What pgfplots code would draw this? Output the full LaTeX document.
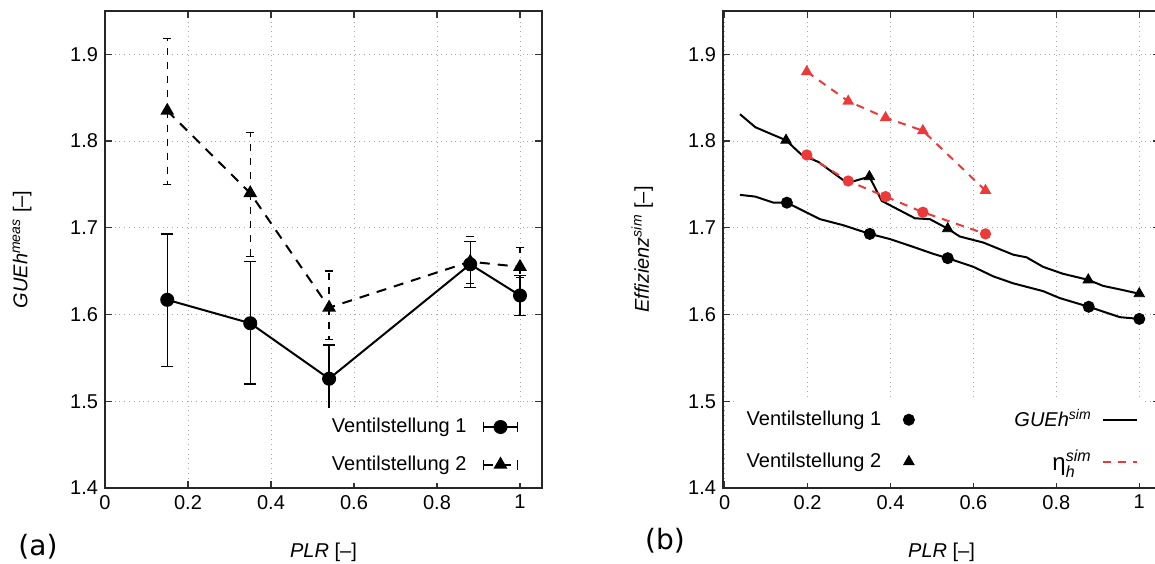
\documentclass[border=0pt]{standalone}
\usepackage{amsmath}
\usepackage{fontspec}
\setmainfont{Liberation Sans}
\newfontfamily\labelfont{DejaVu Sans}
\usepackage{pgfplots}
\pgfplotsset{compat=1.18}

\definecolor{simred}{RGB}{236,58,58}

\pgfplotsset{
  panel/.style={
    scale only axis, width=218.5pt, height=238.5pt,
    anchor=south west,
    ymin=1.4, ymax=1.95,
    xtick={0,0.2,0.4,0.6,0.8,1},
    ytick={1.4,1.5,1.6,1.7,1.8,1.9},
    tick align=inside, tick pos=both,
    major tick length=3.5pt,
    every tick/.style={black!80, line width=0.6pt},
    axis line style={black!85, line width=0.9pt},
    grid=major, grid style={dotted, gray!70, line width=0.5pt},
    tick label style={font=\fontsize{10}{12}\selectfont},
    /pgf/number format/assume math mode=true,
    label style={font=\fontsize{10}{12}\selectfont},
    xlabel={\textit{PLR} [--]},
    xlabel style={at={(axis description cs:0.5,-0.134)}, anchor=center},
    legend style={draw=none, fill=white, font=\fontsize{10}{12}\selectfont,
      row sep=6pt, inner sep=3pt},
    legend cell align=right,
    legend plot pos=right,
  },
  errleg/.style={legend image code/.code={
    \draw[##1,mark repeat=2,mark phase=2] plot coordinates {(0cm,0cm) (0.3cm,0cm) (0.6cm,0cm)};
    \draw[black,solid,line width=0.7pt] (0cm,-2.5pt) -- (0cm,2.5pt) (0.6cm,-2.5pt) -- (0.6cm,2.5pt);
  }},
}

\begin{document}
\begin{tikzpicture}
%% (a) measured
\begin{axis}[panel, at={(52.5pt,37.5pt)},
  xmin=0, xmax=1.053,
  ylabel={\textit{GUEh}$^{\text{\itshape meas}}$ [--]},
  ylabel style={at={(axis description cs:-0.19,0.5)}, anchor=center},
  legend style={at={(axis cs:1.012,1.405)}, anchor=south east,
    /tikz/column 1/.style={column sep=6pt}},
  ]
\addplot[black, line width=1pt, mark=*, mark size=3pt, errleg,
         error bars/.cd, y dir=both, y explicit,
         error bar style={line width=0.7pt},
         error mark options={rotate=90, black, mark size=3pt, line width=0.7pt}]
  coordinates {
   (0.15,1.617) += (0,0.076) -= (0,0.077)
   (0.35,1.590) += (0,0.071) -= (0,0.070)
   (0.54,1.526) += (0,0.039) -= (0,0.045)
   (0.88,1.658) += (0,0.026) -= (0,0.027)
   (1.00,1.622) += (0,0.023) -= (0,0.023)};
\addlegendentry{Ventilstellung 1}
\addplot[black, line width=1pt, dash pattern=on 5pt off 4pt,
         mark=triangle*, mark size=3pt, mark options={solid}, errleg,
         error bars/.cd, y dir=both, y explicit,
         error bar style={line width=0.7pt, dash pattern=on 3.5pt off 3.5pt},
         error mark options={rotate=90, black, solid, mark size=2pt, line width=0.7pt}]
  coordinates {
   (0.15,1.835) += (0,0.083) -= (0,0.085)
   (0.35,1.740) += (0,0.070) -= (0,0.073)
   (0.54,1.608) += (0,0.042) -= (0,0.037)
   (0.88,1.661) += (0,0.029) -= (0,0.025)
   (1.00,1.655) += (0,0.022) -= (0,0.012)};
\addlegendentry{Ventilstellung 2}
\end{axis}

%% (b) simulated
\begin{axis}[panel, at={(361.5pt,37.5pt)},
  xmin=-0.004, xmax=1.05,
  ylabel={\textit{Effizienz}$^{\text{\itshape sim}}$ [--]},
  ylabel style={at={(axis description cs:-0.185,0.5)}, anchor=center},
  legend columns=2,
  legend style={at={(axis cs:1.012,1.405)}, anchor=south east,
    /tikz/column 1/.style={column sep=9pt},
    /tikz/column 2/.style={column sep=48pt},
    /tikz/column 3/.style={column sep=3pt}},
  ]
\addlegendimage{only marks, mark=*, black, mark size=2.8pt}
\addlegendentry{Ventilstellung 1}
\addlegendimage{black, line width=1pt}
\addlegendentry{\textit{GUEh}$^{\text{\itshape sim}}$}
\addlegendimage{only marks, mark=triangle*, black, mark size=3pt}
\addlegendentry{Ventilstellung 2}
\addlegendimage{simred, line width=1pt, dash pattern=on 4pt off 3.5pt}
\addlegendentry{\fontsize{12}{12}\selectfont η$_{\text{\itshape h}}^{\text{\itshape sim}}$}

%% GUEh sim, Ventilstellung 1
\addplot[black, line width=1pt, forget plot] coordinates {
  (0.037,1.738) (0.074,1.736) (0.118,1.729) (0.150,1.729) (0.230,1.710)
  (0.286,1.703) (0.350,1.693) (0.399,1.687) (0.455,1.678) (0.503,1.670)
  (0.538,1.665) (0.600,1.655) (0.648,1.644) (0.696,1.636) (0.768,1.627)
  (0.808,1.619) (0.878,1.609) (0.953,1.597) (1.000,1.595)};
\addplot[only marks, mark=*, black, mark size=2.8pt, forget plot] coordinates {
  (0.150,1.729) (0.350,1.693) (0.538,1.665) (0.878,1.609) (1.000,1.595)};
%% GUEh sim, Ventilstellung 2
\addplot[black, line width=1pt, forget plot] coordinates {
  (0.037,1.831) (0.074,1.816) (0.118,1.807) (0.148,1.801) (0.186,1.784)
  (0.226,1.776) (0.286,1.755) (0.306,1.753) (0.349,1.759) (0.379,1.731)
  (0.423,1.720) (0.459,1.711) (0.495,1.710) (0.538,1.699) (0.567,1.690)
  (0.624,1.683) (0.696,1.669) (0.728,1.666) (0.768,1.655) (0.816,1.647)
  (0.877,1.640) (0.913,1.633) (0.953,1.629) (1.000,1.624)};
\addplot[only marks, mark=triangle*, black, mark size=3pt, forget plot] coordinates {
  (0.148,1.801) (0.349,1.759) (0.538,1.699) (0.877,1.640) (1.000,1.624)};
%% eta_h sim
\addplot[simred, line width=1pt, dash pattern=on 4pt off 3.5pt,
         mark=*, mark size=2.3pt, mark options={solid}, forget plot] coordinates {
  (0.198,1.784) (0.298,1.754) (0.388,1.736) (0.478,1.718) (0.629,1.693)};
\addplot[simred, line width=1pt, dash pattern=on 4pt off 3.5pt,
         mark=triangle*, mark size=2.4pt, mark options={solid}, forget plot] coordinates {
  (0.198,1.880) (0.298,1.846) (0.388,1.827) (0.478,1.812) (0.629,1.743)};
\end{axis}

\node[font=\labelfont\fontsize{14}{16}\selectfont] at (19pt,8pt) {(a)};
\node[font=\labelfont\fontsize{14}{16}\selectfont] at (332.5pt,11pt) {(b)};

\pgfresetboundingbox
\path[use as bounding box] (0,0) rectangle (577.5pt,281.5pt);
\end{tikzpicture}
\end{document}
